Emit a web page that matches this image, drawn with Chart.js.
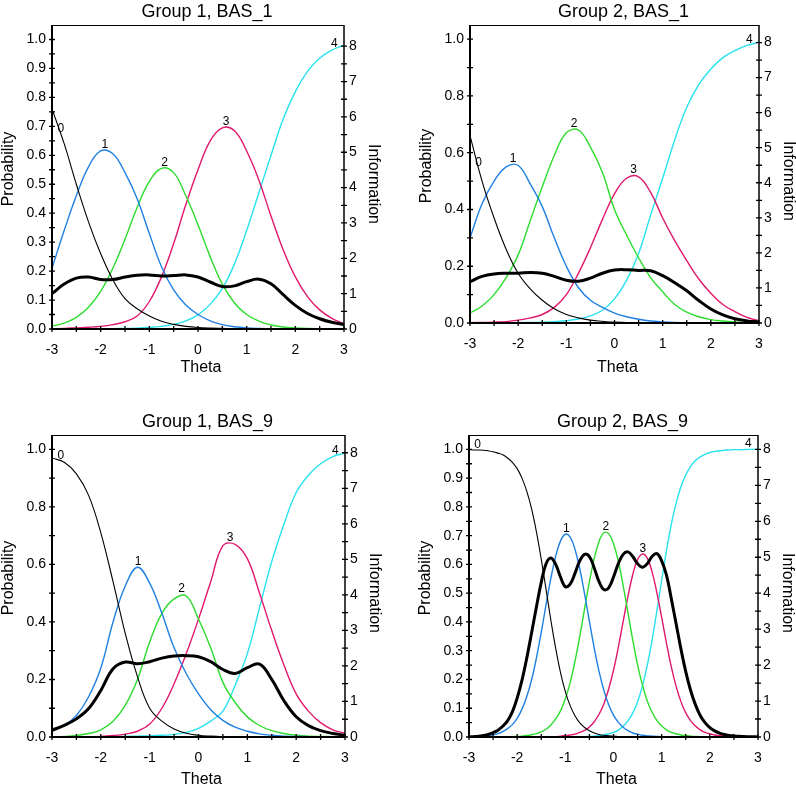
<!DOCTYPE html>
<html>
<head>
<meta charset="utf-8">
<script src="https://cdn.jsdelivr.net/npm/chart.js@4.4.1/dist/chart.umd.min.js"></script>
<style>
  html, body { margin: 0; padding: 0; background: #fff; }
  #wrap { position: relative; width: 796px; height: 788px; overflow: hidden; background: #fff; }
  #wrap canvas { position: absolute; }
</style>
</head>
<body>
<div id="wrap">
  <canvas id="p1"></canvas>
  <canvas id="p2"></canvas>
  <canvas id="p3"></canvas>
  <canvas id="p4"></canvas>
</div>
<script>
/* category response curves + information, 4 panels */

// ─── Data ─────────────────────────────────────────────────────────────────────

const thetaCoarse = [-3, -2.75, -2.5, -2.25, -2, -1.75, -1.5, -1.25, -1, -0.75, -0.5, -0.25, 0,
  0.25, 0.5, 0.75, 1, 1.25, 1.5, 1.75, 2, 2.25, 2.5, 2.75, 3];

const thetaFine = [-3, -2.9, -2.8, -2.7, -2.6, -2.5, -2.4, -2.3, -2.2, -2.1, -2, -1.9, -1.8, -1.7,
  -1.6, -1.5, -1.4, -1.3, -1.2, -1.1, -1, -0.9, -0.8, -0.7, -0.6, -0.5, -0.4, -0.3, -0.2, -0.1, 0,
  0.1, 0.2, 0.3, 0.4, 0.5, 0.6, 0.7, 0.8, 0.9, 1, 1.1, 1.2, 1.3, 1.4, 1.5, 1.6, 1.7, 1.8, 1.9, 2,
  2.1, 2.2, 2.3, 2.4, 2.5, 2.6, 2.7, 2.8, 2.9, 3];

// Group 1, BAS_1
const g1b1Cat0 = [0.76, 0.64, 0.50, 0.37, 0.26, 0.17, 0.105, 0.07, 0.045, 0.027, 0.016, 0.009, 0.005, 0.003, 0.002, 0.001, 0.001, 0, 0, 0, 0, 0, 0, 0, 0];
const g1b1Cat1 = [0.21, 0.34, 0.46, 0.56, 0.615, 0.605, 0.54, 0.45, 0.33, 0.215, 0.135, 0.083, 0.05, 0.028, 0.015, 0.008, 0.004, 0.002, 0.001, 0, 0, 0, 0, 0, 0];
const g1b1Cat2 = [0.01, 0.02, 0.04, 0.075, 0.13, 0.21, 0.31, 0.42, 0.51, 0.555, 0.54, 0.46, 0.36, 0.25, 0.155, 0.09, 0.05, 0.027, 0.014, 0.007, 0.004, 0.002, 0.001, 0, 0];
const g1b1Cat3 = [0.001, 0.002, 0.004, 0.006, 0.009, 0.015, 0.025, 0.045, 0.095, 0.18, 0.295, 0.43, 0.55, 0.65, 0.695, 0.685, 0.615, 0.515, 0.39, 0.274, 0.18, 0.112, 0.066, 0.037, 0.018];
const g1b1Cat4 = [0, 0, 0, 0, 0.001, 0.001, 0.002, 0.003, 0.005, 0.009, 0.016, 0.028, 0.049, 0.085, 0.14, 0.225, 0.34, 0.47, 0.60, 0.725, 0.82, 0.89, 0.935, 0.963, 0.98];
const g1b1Info = [1.00, 1.27, 1.44, 1.47, 1.40, 1.40, 1.47, 1.52, 1.53, 1.50, 1.51, 1.53, 1.47, 1.33, 1.20, 1.22, 1.34, 1.41, 1.28, 0.97, 0.67, 0.44, 0.29, 0.19, 0.13];

// Group 2, BAS_1
const g2b1Cat0 = [0.66, 0.50, 0.37, 0.26, 0.175, 0.12, 0.08, 0.05, 0.03, 0.018, 0.01, 0.006, 0.003, 0.002, 0.001, 0, 0, 0, 0, 0, 0, 0, 0, 0, 0];
const g2b1Cat1 = [0.30, 0.42, 0.50, 0.55, 0.555, 0.49, 0.41, 0.30, 0.20, 0.125, 0.08, 0.055, 0.035, 0.022, 0.013, 0.007, 0.004, 0.002, 0.001, 0, 0, 0, 0, 0, 0];
const g2b1Cat2 = [0.035, 0.06, 0.10, 0.16, 0.24, 0.36, 0.48, 0.59, 0.67, 0.68, 0.62, 0.53, 0.40, 0.31, 0.23, 0.16, 0.11, 0.065, 0.038, 0.022, 0.012, 0.007, 0.004, 0.002, 0.001];
const g2b1Cat3 = [0.001, 0.002, 0.003, 0.005, 0.01, 0.018, 0.03, 0.055, 0.10, 0.175, 0.265, 0.365, 0.455, 0.51, 0.515, 0.46, 0.37, 0.29, 0.22, 0.155, 0.105, 0.065, 0.04, 0.02, 0.008];
const g2b1Cat4 = [0, 0, 0, 0, 0.001, 0.002, 0.003, 0.005, 0.008, 0.014, 0.025, 0.045, 0.085, 0.15, 0.245, 0.38, 0.51, 0.645, 0.76, 0.84, 0.895, 0.935, 0.96, 0.978, 0.99];
const g2b1Info = [1.18, 1.33, 1.40, 1.42, 1.42, 1.44, 1.42, 1.33, 1.22, 1.19, 1.28, 1.42, 1.51, 1.52, 1.50, 1.49, 1.35, 1.15, 0.92, 0.64, 0.40, 0.23, 0.12, 0.06, 0.03];

// Group 1, BAS_9
const g1b9Cat0 = [0.97, 0.955, 0.915, 0.84, 0.71, 0.54, 0.36, 0.21, 0.10, 0.055, 0.028, 0.013, 0.006, 0.003, 0.001, 0, 0, 0, 0, 0, 0, 0, 0, 0, 0];
const g1b9Cat1 = [0.023, 0.04, 0.075, 0.14, 0.24, 0.40, 0.525, 0.59, 0.535, 0.43, 0.31, 0.22, 0.15, 0.095, 0.058, 0.034, 0.02, 0.011, 0.006, 0.003, 0.002, 0.001, 0, 0, 0];
const g1b9Cat2 = [0.001, 0.002, 0.005, 0.012, 0.025, 0.055, 0.11, 0.20, 0.33, 0.43, 0.48, 0.49, 0.41, 0.31, 0.19, 0.12, 0.07, 0.04, 0.022, 0.012, 0.006, 0.003, 0.002, 0.001, 0];
const g1b9Cat3 = [0, 0, 0.001, 0.001, 0.002, 0.005, 0.01, 0.02, 0.045, 0.10, 0.185, 0.29, 0.41, 0.54, 0.665, 0.67, 0.62, 0.50, 0.37, 0.25, 0.15, 0.09, 0.05, 0.025, 0.013];
const g1b9Cat4 = [0, 0, 0, 0, 0.001, 0.001, 0.002, 0.003, 0.004, 0.006, 0.009, 0.016, 0.03, 0.055, 0.09, 0.18, 0.29, 0.45, 0.61, 0.74, 0.85, 0.91, 0.95, 0.975, 0.987];
const g1b9Info = [0.19, 0.33, 0.51, 0.80, 1.31, 1.92, 2.11, 2.06, 2.12, 2.22, 2.28, 2.29, 2.26, 2.12, 1.90, 1.79, 1.95, 2.05, 1.62, 1.02, 0.57, 0.32, 0.18, 0.10, 0.05];

// Group 2, BAS_9 (read on the finer theta grid)
const g2b9Cat0 = [0.999, 0.998, 0.998, 0.997, 0.995, 0.992, 0.987, 0.981, 0.970, 0.955, 0.933, 0.900, 0.854, 0.793,
  0.713, 0.618, 0.513, 0.406, 0.308, 0.224, 0.158, 0.109, 0.074, 0.049, 0.033, 0.022, 0.014, 0.009, 0.006, 0.004,
  0.003, 0.002, 0.001, 0.001, 0, 0, 0, 0, 0, 0, 0, 0, 0, 0, 0, 0, 0, 0, 0, 0, 0, 0, 0, 0, 0, 0, 0, 0, 0, 0, 0];
const g2b9Cat1 = [0.001, 0.002, 0.002, 0.003, 0.005, 0.008, 0.012, 0.019, 0.029, 0.043, 0.065, 0.097, 0.141, 0.199,
  0.275, 0.364, 0.460, 0.552, 0.629, 0.682, 0.705, 0.695, 0.653, 0.585, 0.497, 0.402, 0.309, 0.228, 0.162, 0.112,
  0.076, 0.051, 0.034, 0.022, 0.014, 0.010, 0.006, 0.004, 0.003, 0.002, 0.001, 0.001, 0, 0, 0, 0, 0, 0, 0, 0, 0,
  0, 0, 0, 0, 0, 0, 0, 0, 0, 0];
const g2b9Cat2 = [0, 0, 0, 0, 0, 0, 0, 0.001, 0.001, 0.001, 0.002, 0.003, 0.005, 0.008, 0.012, 0.018, 0.027, 0.042,
  0.063, 0.091, 0.133, 0.189, 0.263, 0.350, 0.446, 0.540, 0.621, 0.680, 0.710, 0.707, 0.673, 0.611, 0.527, 0.432,
  0.337, 0.251, 0.181, 0.126, 0.086, 0.058, 0.038, 0.025, 0.016, 0.011, 0.007, 0.005, 0.003, 0.002, 0.001, 0.001,
  0, 0, 0, 0, 0, 0, 0, 0, 0, 0, 0];
const g2b9Cat3 = [0, 0, 0, 0, 0, 0, 0, 0, 0, 0, 0, 0, 0, 0, 0, 0, 0, 0, 0, 0.003, 0.005, 0.007, 0.010, 0.016, 0.023,
  0.035, 0.053, 0.079, 0.115, 0.167, 0.232, 0.312, 0.401, 0.489, 0.565, 0.617, 0.636, 0.622, 0.575, 0.502, 0.416,
  0.326, 0.244, 0.176, 0.123, 0.084, 0.057, 0.038, 0.025, 0.016, 0.011, 0.007, 0.005, 0.003, 0.002, 0.001, 0.001,
  0, 0, 0, 0];
const g2b9Cat4 = [0, 0, 0, 0, 0, 0, 0, 0, 0, 0, 0, 0, 0, 0, 0, 0, 0, 0, 0, 0, 0, 0, 0, 0, 0.001, 0.002, 0.003, 0.005,
  0.007, 0.011, 0.016, 0.024, 0.037, 0.056, 0.083, 0.122, 0.177, 0.248, 0.336, 0.438, 0.545, 0.648, 0.739, 0.813,
  0.870, 0.911, 0.940, 0.961, 0.974, 0.983, 0.989, 0.993, 0.995, 0.997, 0.998, 0.999, 0.999, 0.999, 1, 1, 1];
const g2b9Info = [0.005, 0.01, 0.02, 0.04, 0.07, 0.12, 0.19, 0.30, 0.45, 0.70, 1.08, 1.58, 2.20, 2.90, 3.62, 4.30,
  4.82, 4.98, 4.80, 4.45, 4.18, 4.25, 4.55, 4.90, 5.08, 5.02, 4.70, 4.32, 4.10, 4.15, 4.45, 4.82, 5.08, 5.15, 5.02,
  4.82, 4.72, 4.82, 5.02, 5.10, 4.90, 4.50, 3.85, 3.15, 2.45, 1.82, 1.30, 0.90, 0.60, 0.40, 0.26, 0.17, 0.11, 0.07,
  0.045, 0.03, 0.02, 0.012, 0.008, 0.005, 0.003];

// Tick values and labelled ticks
const thetaTicks = [-3, -2.5, -2, -1.5, -1, -0.5, 0, 0.5, 1, 1.5, 2, 2.5, 3];
const probTicksFine = [0, 0.05, 0.1, 0.15, 0.2, 0.25, 0.3, 0.35, 0.4, 0.45, 0.5, 0.55, 0.6, 0.65, 0.7, 0.75,
  0.8, 0.85, 0.9, 0.95, 1.0];
const probTicksCoarse = [0, 0.1, 0.2, 0.3, 0.4, 0.5, 0.6, 0.7, 0.8, 0.9, 1.0];
const probLabelsFine = [0, 0.1, 0.2, 0.3, 0.4, 0.5, 0.6, 0.7, 0.8, 0.9, 1.0];
const probLabelsCoarse = [0, 0.2, 0.4, 0.6, 0.8, 1.0];
const infoTicks = [0, 0.5, 1, 1.5, 2, 2.5, 3, 3.5, 4, 4.5, 5, 5.5, 6, 6.5, 7, 7.5, 8];
const infoLabels = [0, 1, 2, 3, 4, 5, 6, 7, 8];

const catNames = ["0", "1", "2", "3", "4"];
const catColors = ["#000000", "#1f80e2", "#2ddc2d", "#e0186e", "#28e2ee"];

// ─── Panels ───────────────────────────────────────────────────────────────────

const FONT = '"Liberation Sans", Arial, Helvetica, sans-serif';

const panels = [
  { id: "p1", title: "Group 1, BAS_1", theta: thetaCoarse,
    cats: [g1b1Cat0, g1b1Cat1, g1b1Cat2, g1b1Cat3, g1b1Cat4], info: g1b1Info,
    probTicks: probTicksFine, probLabels: probLabelsFine, infoMax: 8.6,
    box: { left: 0, top: 0, w: 398, h: 392 }, area: { l: 52, t: 25, r: 344, b: 329 }, thetaDy: 39 },
  { id: "p2", title: "Group 2, BAS_1", theta: thetaCoarse,
    cats: [g2b1Cat0, g2b1Cat1, g2b1Cat2, g2b1Cat3, g2b1Cat4], info: g2b1Info,
    probTicks: probTicksCoarse, probLabels: probLabelsCoarse, infoMax: 8.5,
    box: { left: 398, top: 0, w: 398, h: 392 }, area: { l: 72, t: 25, r: 361, b: 323 }, thetaDy: 45 },
  { id: "p3", title: "Group 1, BAS_9", theta: thetaCoarse,
    cats: [g1b9Cat0, g1b9Cat1, g1b9Cat2, g1b9Cat3, g1b9Cat4], info: g1b9Info,
    probTicks: probTicksCoarse, probLabels: probLabelsCoarse, infoMax: 8.5,
    box: { left: 0, top: 392, w: 398, h: 396 }, area: { l: 52, t: 43, r: 345, b: 345 }, thetaDy: 43 },
  { id: "p4", title: "Group 2, BAS_9", theta: thetaFine,
    cats: [g2b9Cat0, g2b9Cat1, g2b9Cat2, g2b9Cat3, g2b9Cat4], info: g2b9Info,
    probTicks: probTicksFine, probLabels: probLabelsFine, infoMax: 8.4,
    box: { left: 398, top: 392, w: 398, h: 396 }, area: { l: 71, t: 43, r: 360, b: 345 }, thetaDy: 43 },
];

// ─── Decorations: crossing ticks, frame, curve numbers, titles ───────────────

// curve value at x, straight between the read points (only used to place a number)
function valueAt(xs, ys, x) {
  for (let i = 0; i < xs.length - 1; i++) {
    if (x >= xs[i] && x <= xs[i + 1]) {
      const f = (x - xs[i]) / (xs[i + 1] - xs[i]);
      return ys[i] + f * (ys[i + 1] - ys[i]);
    }
  }
  return ys[ys.length - 1];
}

function labelAnchor(xs, ys, k, last) {
  if (k === 0) {
    const x = xs[0] + 0.18;
    return { x, y: valueAt(xs, ys, x) };
  }
  if (k === last) {
    const x = xs[xs.length - 1] - 0.2;
    return { x, y: valueAt(xs, ys, x) };
  }
  let m = 0;
  ys.forEach((v, i) => { if (v > ys[m]) m = i; });
  if (m === 0 || m === ys.length - 1) return { x: xs[m], y: ys[m] };
  const y0 = ys[m - 1], y1 = ys[m], y2 = ys[m + 1];
  const h = xs[m + 1] - xs[m];
  const den = y0 - 2 * y1 + y2;
  if (den === 0) return { x: xs[m], y: y1 };
  const off = h * (y0 - y2) / (2 * den);
  const peak = y1 - (y0 - y2) * off / (4 * h);
  return { x: xs[m] + off, y: peak };
}

const decorations = {
  id: "decorations",
  afterDatasetsDraw(chart, args, opts) {
    const { ctx, chartArea: a, scales } = chart;
    ctx.save();
    ctx.strokeStyle = "#000";
    ctx.fillStyle = "#000";

    // tick marks that cross the axis lines
    const half = 3;
    ctx.lineWidth = 1.3;
    ctx.beginPath();
    scales.x.ticks.forEach(t => {
      const px = scales.x.getPixelForValue(t.value);
      ctx.moveTo(px, a.bottom - half);
      ctx.lineTo(px, a.bottom + half);
    });
    scales.y.ticks.forEach(t => {
      const py = scales.y.getPixelForValue(t.value);
      ctx.moveTo(a.left - half, py);
      ctx.lineTo(a.left + half, py);
    });
    scales.y1.ticks.forEach(t => {
      const py = scales.y1.getPixelForValue(t.value);
      ctx.moveTo(a.right - half, py);
      ctx.lineTo(a.right + half, py);
    });
    ctx.stroke();

    // frame
    ctx.lineWidth = 1;
    ctx.beginPath();
    ctx.moveTo(a.left, a.top + 0.5);
    ctx.lineTo(a.right, a.top + 0.5);
    ctx.stroke();
    ctx.lineWidth = 1.5;
    ctx.beginPath();
    ctx.moveTo(a.right, a.top);
    ctx.lineTo(a.right, a.bottom);
    ctx.stroke();
    ctx.lineWidth = 2;
    ctx.beginPath();
    ctx.moveTo(a.left, a.top);
    ctx.lineTo(a.left, a.bottom);
    ctx.lineTo(a.right, a.bottom);
    ctx.stroke();

    // category numbers on the curves
    ctx.font = `12px ${FONT}`;
    ctx.textAlign = "center";
    ctx.textBaseline = "alphabetic";
    opts.cats.forEach((ys, k) => {
      const p = labelAnchor(opts.theta, ys, k, opts.cats.length - 1);
      const px = scales.x.getPixelForValue(p.x);
      const py = scales.y.getPixelForValue(p.y);
      ctx.fillText(catNames[k], px, py - 2);
    });

    // chart title
    const cx = (a.left + a.right) / 2;
    const cy = (a.top + a.bottom) / 2;
    ctx.font = `18px ${FONT}`;
    ctx.fillText(opts.title, cx + 9, a.top - 8);

    // axis titles
    ctx.font = `16px ${FONT}`;
    ctx.textBaseline = "middle";
    ctx.fillText("Theta", cx + 3, a.bottom + opts.thetaDy);

    ctx.save();
    ctx.translate(a.left - 43, cy - 8);
    ctx.rotate(-Math.PI / 2);
    ctx.fillText("Probability", 0, 0);
    ctx.restore();

    ctx.save();
    ctx.translate(a.right + 29, cy + 7);
    ctx.rotate(Math.PI / 2);
    ctx.fillText("Information", 0, 0);
    ctx.restore();

    ctx.restore();
  },
};

// ─── Build charts ─────────────────────────────────────────────────────────────

function near(list, v) {
  return list.some(u => Math.abs(u - v) < 1e-6);
}

function fixedTicks(values) {
  return scale => { scale.ticks = values.map(v => ({ value: v })); };
}

function makeChart(p) {
  const canvas = document.getElementById(p.id);
  canvas.width = p.box.w;
  canvas.height = p.box.h;
  canvas.style.left = p.box.left + "px";
  canvas.style.top = p.box.top + "px";

  const probSets = p.cats.map((ys, k) => ({
    label: catNames[k],
    data: p.theta.map((t, i) => ({ x: t, y: ys[i] })),
    yAxisID: "y",
    borderColor: catColors[k],
    borderWidth: k === 0 ? 1.1 : 1.4,
    pointRadius: 0,
    tension: 0.4,
    order: 1,
  }));

  const infoSet = {
    label: "Information",
    data: p.theta.map((t, i) => ({ x: t, y: p.info[i] })),
    yAxisID: "y1",
    borderColor: "#000000",
    borderWidth: 3,
    pointRadius: 0,
    tension: 0.4,
    order: 0,
  };

  const tickFont = { family: FONT, size: 14 };

  return new Chart(canvas.getContext("2d"), {
    type: "line",
    data: { datasets: [...probSets, infoSet] },
    plugins: [decorations],
    options: {
      responsive: false,
      animation: false,
      devicePixelRatio: 1,
      layout: { padding: { top: p.area.t, left: 0, right: 0, bottom: 0 } },
      plugins: {
        legend: { display: false },
        tooltip: { enabled: false },
        title: { display: false },
        decorations: { title: p.title, theta: p.theta, cats: p.cats, thetaDy: p.thetaDy },
      },
      scales: {
        x: {
          type: "linear",
          min: -3,
          max: 3,
          grid: { display: false, drawTicks: false },
          border: { display: false },
          afterBuildTicks: fixedTicks(thetaTicks),
          afterFit: s => { s.height = p.box.h - p.area.b; },
          ticks: {
            autoSkip: false,
            maxRotation: 0,
            padding: 13,
            color: "#000",
            font: tickFont,
            callback: v => (Number.isInteger(v) ? String(v) : ""),
          },
        },
        y: {
          type: "linear",
          position: "left",
          min: 0,
          max: 1.05,
          grid: { display: false, drawTicks: false },
          border: { display: false },
          afterBuildTicks: fixedTicks(p.probTicks),
          afterFit: s => { s.width = p.area.l; },
          ticks: {
            autoSkip: false,
            padding: 6,
            color: "#000",
            font: tickFont,
            callback: v => (near(p.probLabels, v) ? v.toFixed(1) : ""),
          },
        },
        y1: {
          type: "linear",
          position: "right",
          min: 0,
          max: p.infoMax,
          grid: { display: false, drawTicks: false },
          border: { display: false },
          afterBuildTicks: fixedTicks(infoTicks),
          afterFit: s => { s.width = p.box.w - p.area.r; },
          ticks: {
            autoSkip: false,
            padding: 5,
            color: "#000",
            font: tickFont,
            callback: v => (near(infoLabels, v) ? String(Math.round(v)) : ""),
          },
        },
      },
    },
  });
}

panels.forEach(makeChart);
</script>
</body>
</html>
